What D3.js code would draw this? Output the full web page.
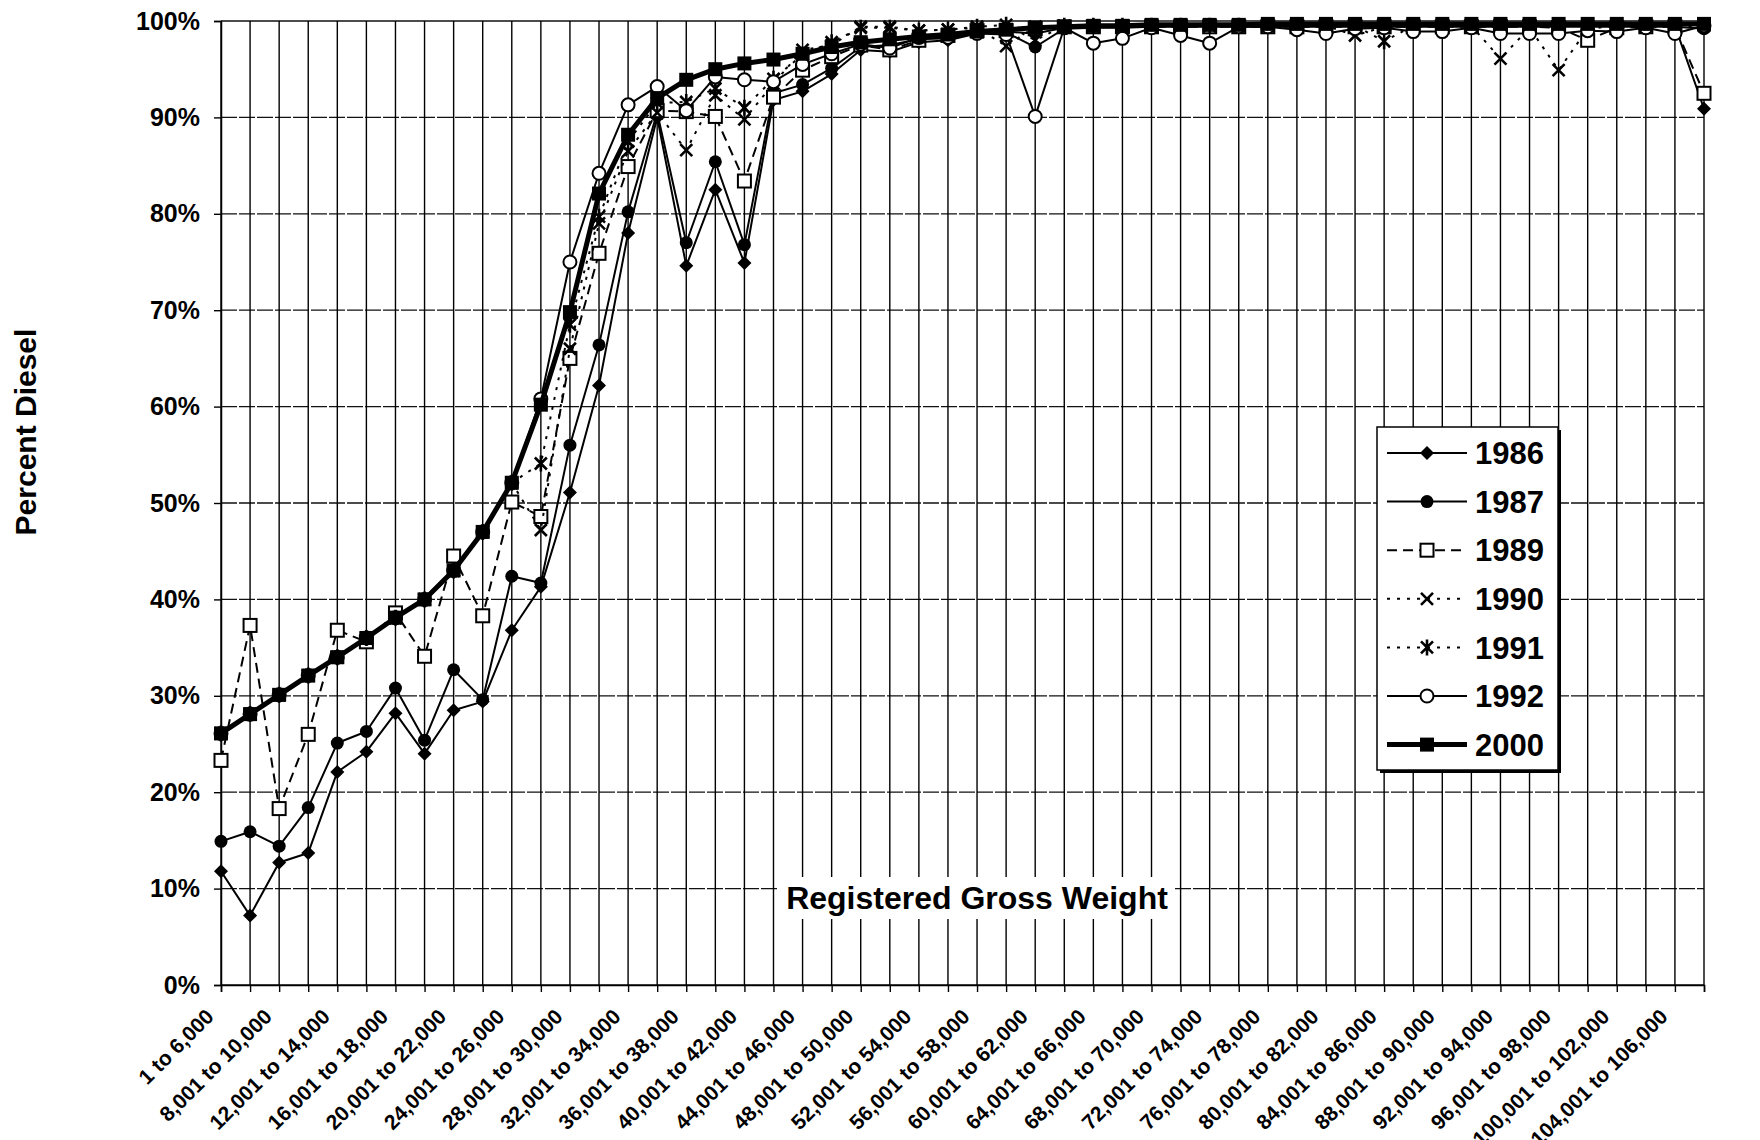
<!DOCTYPE html>
<html>
<head>
<meta charset="utf-8">
<script src="https://cdnjs.cloudflare.com/ajax/libs/d3/7.8.5/d3.min.js"></script>
<style>
  body { margin: 0; background: #fff; }
  svg { display: block; font-family: "Liberation Sans", Arial, sans-serif; font-weight: bold; }
</style>
</head>
<body>
<div class="canvas"></div>
<script>
// weight classes (x categories)
var categories = ["1 to 6,000", "6,001 to 8,000", "8,001 to 10,000", "10,001 to 12,000", "12,001 to 14,000",
  "14,001 to 16,000", "16,001 to 18,000", "18,001 to 20,000", "20,001 to 22,000", "22,001 to 24,000",
  "24,001 to 26,000", "26,001 to 28,000", "28,001 to 30,000", "30,001 to 32,000", "32,001 to 34,000",
  "34,001 to 36,000", "36,001 to 38,000", "38,001 to 40,000", "40,001 to 42,000", "42,001 to 44,000",
  "44,001 to 46,000", "46,001 to 48,000", "48,001 to 50,000", "50,001 to 52,000", "52,001 to 54,000",
  "54,001 to 56,000", "56,001 to 58,000", "58,001 to 60,000", "60,001 to 62,000", "62,001 to 64,000",
  "64,001 to 66,000", "66,001 to 68,000", "68,001 to 70,000", "70,001 to 72,000", "72,001 to 74,000",
  "74,001 to 76,000", "76,001 to 78,000", "78,001 to 80,000", "80,001 to 82,000", "82,001 to 84,000",
  "84,001 to 86,000", "86,001 to 88,000", "88,001 to 90,000", "90,001 to 92,000", "92,001 to 94,000",
  "94,001 to 96,000", "96,001 to 98,000", "98,001 to 100,000", "100,001 to 102,000", "102,001 to 104,000",
  "104,001 to 106,000", "Over 106,000"]

// only every other class is labelled on the axis
var labelledCategories = categories.filter(function(d, i) { return i % 2 == 0 })

var yTicks = [0, 10, 20, 30, 40, 50, 60, 70, 80, 90, 100]

// percent diesel
var pct1986 = [11.8, 7.2, 12.7, 13.7, 22.1, 24.2, 28.2, 24.0, 28.5, 29.4, 36.8, 41.3, 51.1, 62.2, 78.0,
  90.0, 74.6, 82.5, 74.9, 91.8, 92.7, 94.5, 97.0, 96.8, 97.8, 98.0, 98.7, 98.9, 98.7, 99.3,
  99.4, 99.5, 99.5, 99.5, 99.5, 99.5, 99.5, 99.5, 99.5, 99.5, 99.5, 99.5, 99.5, 99.5, 99.5,
  99.5, 99.5, 99.5, 99.5, 99.5, 99.5, 90.9]
var pct1987 = [14.9, 15.9, 14.4, 18.4, 25.1, 26.3, 30.8, 25.4, 32.7, 29.6, 42.4, 41.7, 56.0, 66.4, 80.2,
  90.5, 77.0, 85.4, 76.8, 92.5, 93.4, 95.1, 97.3, 97.5, 98.1, 98.2, 98.7, 98.8, 97.3, 99.2,
  99.3, 99.3, 99.4, 99.4, 99.4, 99.4, 99.4, 99.4, 99.4, 99.4, 99.4, 99.4, 99.4, 99.4, 99.4,
  99.4, 99.4, 99.4, 99.4, 99.4, 99.4, 99.2]
var pct1989 = [23.3, 37.3, 18.3, 26.0, 36.8, 35.6, 38.6, 34.1, 44.5, 38.3, 50.1, 48.6, 65.0, 75.9, 84.9,
  90.7, 90.6, 90.1, 83.4, 92.1, 94.9, 96.3, 97.5, 97.0, 98.0, 98.5, 99.0, 99.0, 99.2, 99.4,
  99.4, 99.4, 99.4, 99.4, 99.4, 99.4, 99.4, 99.4, 99.4, 99.4, 99.4, 99.4, 99.4, 99.4, 99.4,
  99.4, 99.3, 98.0, 99.3, 99.4, 99.4, 92.5]
var pct1990 = [26.1, 28.1, 30.1, 32.1, 34.0, 36.0, 38.1, 40.0, 43.0, 47.0, 52.1, 47.2, 66.0, 79.0, 86.5,
  90.5, 86.6, 92.3, 89.8, 93.5, 97.0, 97.5, 99.4, 99.4, 99.0, 99.1, 99.3, 97.4, 99.4, 99.5,
  99.5, 99.5, 99.5, 99.5, 99.5, 99.5, 99.5, 99.5, 99.5, 98.5, 99.4, 99.5, 99.5, 99.5, 96.1,
  99.3, 94.9, 99.2, 99.5, 99.5, 99.5, 99.5]
var pct1991 = [26.1, 28.1, 30.1, 32.1, 34.0, 36.0, 38.1, 40.0, 43.0, 47.0, 52.1, 54.1, 68.5, 79.7, 87.5,
  91.5, 91.6, 93.0, 91.0, 94.0, 96.5, 97.8, 99.3, 99.3, 99.0, 99.1, 99.4, 99.6, 98.0, 99.5,
  99.5, 99.5, 99.5, 99.5, 99.5, 99.5, 99.5, 99.5, 99.5, 99.5, 97.9, 99.5, 99.5, 99.5, 99.5,
  99.5, 99.5, 99.5, 99.5, 99.5, 99.5, 99.5]
var pct1992 = [26.1, 28.1, 30.1, 32.1, 34.0, 36.0, 38.1, 40.0, 43.0, 47.0, 52.1, 60.8, 75.0, 84.2, 91.3,
  93.2, 90.7, 94.2, 93.9, 93.7, 95.5, 96.6, 97.6, 97.2, 98.3, 98.3, 98.7, 98.6, 90.1, 99.3,
  97.7, 98.2, 99.3, 98.5, 97.7, 99.4, 99.4, 99.1, 98.7, 99.2, 99.3, 98.9, 98.9, 99.3, 98.7,
  98.7, 98.7, 99.0, 98.9, 99.3, 98.7, 99.5]
var pct2000 = [26.1, 28.1, 30.1, 32.1, 34.0, 36.0, 38.1, 40.0, 43.0, 47.0, 52.1, 60.2, 69.8, 82.1, 88.2,
  92.0, 93.9, 95.0, 95.6, 96.0, 96.6, 97.3, 97.8, 98.1, 98.4, 98.6, 98.9, 99.1, 99.3, 99.4,
  99.5, 99.5, 99.6, 99.6, 99.6, 99.6, 99.7, 99.7, 99.7, 99.7, 99.7, 99.7, 99.7, 99.7, 99.7,
  99.7, 99.7, 99.7, 99.7, 99.7, 99.7, 99.7]

var years = ["1986", "1987", "1989", "1990", "1991", "1992", "2000"]
var seriesValues = [pct1986, pct1987, pct1989, pct1990, pct1991, pct1992, pct2000]

// how each year is drawn
var styles = {
  "1986": {width: 2, dash: null, marker: "diamond"},
  "1987": {width: 2, dash: null, marker: "dot"},
  "1989": {width: 2, dash: "10,6", marker: "openSquare"},
  "1990": {width: 2, dash: "3,7", marker: "cross"},
  "1991": {width: 2, dash: "3,7", marker: "star"},
  "1992": {width: 2, dash: null, marker: "openCircle"},
  "2000": {width: 5, dash: null, marker: "square"}
}

var W = 1760, H = 1140
var plot = {left: 221, right: 1704, top: 21, bottom: 985}

var svg = d3.select(".canvas").append("svg").attr("width", W).attr("height", H)
svg.append("rect").attr("width", W).attr("height", H).attr("fill", "#fff")

var x = d3.scalePoint().domain(categories).range([plot.left, plot.right])
var y = d3.scaleLinear().domain([0, 100]).range([plot.bottom, plot.top])

// horizontal grid
svg.append("g").selectAll("line").data(yTicks).join("line")
    .attr("x1", plot.left).attr("x2", plot.right)
    .attr("y1", d => y(d)).attr("y2", d => y(d))
    .attr("stroke", "#111").attr("stroke-width", 1.3)
    .attr("stroke-dasharray", d => (d == 0 || d == 100) ? null : "16,2")

// vertical grid, one per weight class
svg.append("g").selectAll("line").data(categories).join("line")
    .attr("x1", d => x(d)).attr("x2", d => x(d))
    .attr("y1", plot.top).attr("y2", plot.bottom)
    .attr("stroke", "#000").attr("stroke-width", 1.4)

// axes
var xAxis = svg.append("g").attr("transform", "translate(0," + plot.bottom + ")")
    .call(d3.axisBottom(x).tickValues(categories).tickSize(7).tickFormat(""))
xAxis.select(".domain").attr("stroke-width", 1.5)
xAxis.selectAll(".tick line").attr("stroke-width", 1.4)

svg.append("g").selectAll("text").data(labelledCategories).join("text")
    .attr("transform", d => "translate(" + (x(d) - 6) + "," + (plot.bottom + 33) + ") rotate(-45)")
    .attr("text-anchor", "end")
    .attr("font-size", 21)
    .text(d => d)

var yAxis = svg.append("g").attr("transform", "translate(" + plot.left + ",0)")
    .call(d3.axisLeft(y).tickValues(yTicks).tickSize(7).tickPadding(14).tickFormat(d => d + "%"))
yAxis.select(".domain").attr("stroke-width", 1.5)
yAxis.selectAll(".tick line").attr("stroke-width", 1.4)
yAxis.selectAll("text").attr("font-size", 25).attr("font-family", "Liberation Sans, Arial, sans-serif")
    .attr("font-weight", "bold").attr("fill", "#000")

// marker shapes
function marker(g, kind) {
  if (kind == "diamond") {
    g.append("path").attr("d", "M0,-7L7,0L0,7L-7,0Z").attr("fill", "#000")
  } else if (kind == "dot") {
    g.append("circle").attr("r", 6.5).attr("fill", "#000")
  } else if (kind == "openSquare") {
    g.append("rect").attr("x", -6.5).attr("y", -6.5).attr("width", 13).attr("height", 13)
        .attr("fill", "#fff").attr("stroke", "#000").attr("stroke-width", 2)
  } else if (kind == "cross") {
    g.append("path").attr("d", "M-6,-6L6,6M-6,6L6,-6").attr("stroke", "#000").attr("stroke-width", 2.6)
  } else if (kind == "star") {
    g.append("path").attr("d", "M-6,-6L6,6M-6,6L6,-6M0,-8L0,8").attr("stroke", "#000").attr("stroke-width", 2.6)
  } else if (kind == "openCircle") {
    g.append("circle").attr("r", 6.5).attr("fill", "#fff").attr("stroke", "#000").attr("stroke-width", 2)
  } else if (kind == "square") {
    g.append("rect").attr("x", -7).attr("y", -7).attr("width", 14).attr("height", 14).attr("fill", "#000")
  }
}

var line = d3.line().x((d, i) => x(categories[i])).y(d => y(d))

years.forEach(function(yr, k) {
  var st = styles[yr]
  var vals = seriesValues[k]
  var g = svg.append("g").attr("class", "series-" + yr)
  g.append("path").datum(vals)
      .attr("d", line)
      .attr("fill", "none").attr("stroke", "#000")
      .attr("stroke-width", st.width)
      .attr("stroke-dasharray", st.dash)
      .attr("stroke-linejoin", "round")
  vals.forEach(function(v, i) {
    marker(g.append("g").attr("transform", "translate(" + x(categories[i]) + "," + y(v) + ")"), st.marker)
  })
})

// x axis title sits inside the plot on a white patch
var xt = svg.append("g").attr("transform", "translate(977,898)")
xt.append("rect").attr("x", -198).attr("y", -21).attr("width", 396).attr("height", 42).attr("fill", "#fff")
xt.append("text").attr("text-anchor", "middle").attr("dy", "0.35em").attr("font-size", 32)
    .text("Registered Gross Weight")

// y axis title
svg.append("text")
    .attr("transform", "translate(25,432) rotate(-90)")
    .attr("text-anchor", "middle").attr("dy", "0.35em")
    .attr("font-size", 30)
    .text("Percent Diesel")

// legend
var lg = svg.append("g").attr("transform", "translate(1377,427)")
lg.append("rect").attr("x", 3).attr("y", 3).attr("width", 181).attr("height", 343).attr("fill", "#000")
lg.append("rect").attr("width", 181).attr("height", 343).attr("fill", "#fff")
    .attr("stroke", "#000").attr("stroke-width", 1.5)
years.forEach(function(yr, k) {
  var st = styles[yr]
  var row = lg.append("g").attr("transform", "translate(0," + (26 + k * 48.6) + ")")
  row.append("line").attr("x1", 10).attr("x2", 90)
      .attr("stroke", "#000").attr("stroke-width", st.width)
      .attr("stroke-dasharray", st.dash)
  marker(row.append("g").attr("transform", "translate(50,0)"), st.marker)
  row.append("text").attr("x", 98).attr("dy", "0.36em").attr("font-size", 31).text(yr)
})
</script>
</body>
</html>
